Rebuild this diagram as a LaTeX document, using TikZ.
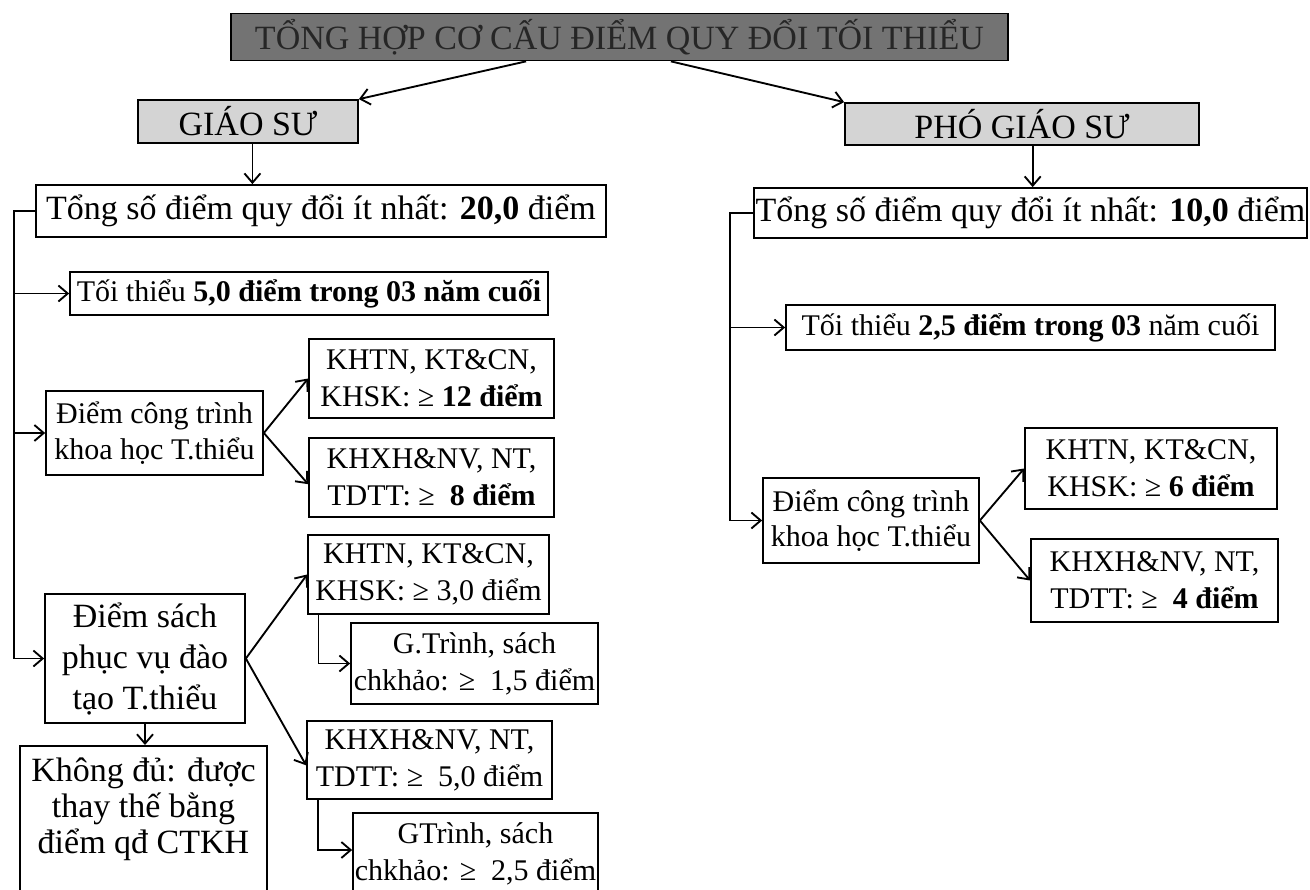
\documentclass[tikz,border=0pt]{standalone}
\usepackage{fontspec}
\setmainfont{Liberation Serif}
\usetikzlibrary{arrows.meta,calc}
\tikzset{
  box/.style={draw, line width=1.3pt, inner sep=0pt, align=center, fill=white},
  sz/.style 2 args={minimum width=#1*0.75pt, minimum height=#2*0.75pt},
  big/.style={font=\fontsize{25.5}{29}\selectfont},
  small/.style={font=\fontsize{22.5}{27.75}\selectfont},
  arr/.style={line width=1.4pt, -{Straight Barb[length=7pt,width=12pt]}},
  conn/.style={line width=1.4pt}
}
\begin{document}
\begin{tikzpicture}[x=0.75pt,y=-0.75pt]
\useasboundingbox (0,0) rectangle (1310,889);
\clip (0,0) rectangle (1310,889);
\fill[white] (0,0) rectangle (1310,889);
% title and heads
\node[box, big, sz={777}{47}, fill=black!55, text=black!85] (title) at (619.5,37) {TỔNG HỢP CƠ CẤU ĐIỂM QUY ĐỔI TỐI THIỂU};
\node[box, big, sz={220}{43}, fill=black!17] (gs) at (248,121.5) {GIÁO SƯ};
\node[box, big, sz={354}{42}, fill=black!17] (pgs) at (1022,124) {PHÓ GIÁO SƯ};
% left tree
\node[box, big, sz={570}{52}] (tonggs) at (321,211) {Tổng số điểm quy đổi ít nhất: \textbf{20,0} điểm};
\node[box, small, sz={478}{43}] (toigs) at (309,293.5) {Tối thiểu \textbf{5,0 điểm trong 03 năm cuối}};
\node[box, small, sz={217}{84}, font=\fontsize{22.5}{26.5}\selectfont] (ctgs) at (154.5,433) {Điểm công trình\\khoa học T.thiểu};
\node[box, small, sz={245}{79}] (khtn1) at (431.5,378.5) {KHTN, KT\&CN,\\KHSK: ≥ \textbf{12 điểm}};
\node[box, small, sz={245}{79}] (khxh1) at (431.5,477.5) {KHXH\&NV, NT,\\TDTT: ≥\ \ \textbf{8 điểm}};
\node[box, big, sz={200}{129}, font=\fontsize{25.5}{30.75}\selectfont] (sach) at (145,658.5) {Điểm sách\\phục vụ đào\\tạo T.thiểu};
\node[box, small, sz={241}{79}] (khtn2) at (428.5,574.5) {KHTN, KT\&CN,\\KHSK: ≥ 3,0 điểm};
\node[box, small, sz={247}{81}] (gt1) at (474.5,663.5) {G.Trình, sách\\chkhảo: ≥\ \ 1,5 điểm};
\node[box, small, sz={245}{78}] (khxh2) at (429.5,760) {KHXH\&NV, NT,\\TDTT: ≥\ \ 5,0 điểm};
\node[box, small, sz={245}{82}] (gt2) at (475.5,854) {GTrình, sách\\chkhảo: ≥\ \ 2,5 điểm};
\node[box, big, sz={247}{155}, anchor=north, font=\fontsize{25.5}{27}\selectfont] (khong) at (143.5,745) {Không đủ: được\\thay thế bằng\\điểm qđ CTKH\\\mbox{}};
% right tree
\node[box, big, sz={553}{50}] (tongpgs) at (1030.5,213) {Tổng số điểm quy đổi ít nhất: \textbf{10,0} điểm};
\node[box, small, sz={489}{45}] (toipgs) at (1030.5,327.5) {Tối thiểu \textbf{2,5 điểm trong 03} năm cuối};
\node[box, small, sz={216}{85}, font=\fontsize{22.5}{26.5}\selectfont] (ctpgs) at (871,520.5) {Điểm công trình\\khoa học T.thiểu};
\node[box, small, sz={252}{81}] (khtn3) at (1151,468.5) {KHTN, KT\&CN,\\KHSK: ≥ \textbf{6 điểm}};
\node[box, small, sz={247}{83}] (khxh3) at (1154.5,580.5) {KHXH\&NV, NT,\\TDTT: ≥\ \ \textbf{4 điểm}};
% connectors top
\coordinate (tA) at ($(title.south west)!0.38!(title.south east)$);
\coordinate (tB) at ($(title.south west)!0.566!(title.south east)$);
\coordinate (gsS) at ($(gs.south west)!0.52!(gs.south east)$);
\coordinate (pgsS) at ($(pgs.south west)!0.53!(pgs.south east)$);
\draw[arr] (tA) -- (gs.north east);
\draw[arr] (tB) -- (pgs.north west);
\draw[arr] (gsS) -- (gsS |- tonggs.north);
\draw[arr] (pgsS) -- (pgsS |- tongpgs.north);
% left bus
\coordinate (gsbus) at (14,0);
\draw[arr] (tonggs.west) -| (gsbus |- sach.west) -- (sach.west);
\draw[arr] (gsbus |- toigs.west) -- (toigs.west);
\draw[arr] (gsbus |- ctgs.west) -- (ctgs.west);
\draw[arr] (ctgs.east) -- (khtn1.west);
\draw[arr] (ctgs.east) -- ([yshift=-5pt]khxh1.west);
\draw[arr] (sach.east) -- (khtn2.west);
\draw[arr] (sach.east) -- ([yshift=-4pt]khxh2.west);
\draw[arr] ([xshift=8.5pt]khtn2.south west) |- (gt1.west);
\draw[arr] ([xshift=9pt]khxh2.south west) |- ([yshift=3pt]gt2.west);
\draw[arr] (sach.south) -- (sach.south |- khong.north);
% right bus
\coordinate (pgsbus) at (730,0);
\draw[arr] (tongpgs.west) -| (pgsbus |- ctpgs.west) -- (ctpgs.west);
\draw[arr] (pgsbus |- toipgs.west) -- (toipgs.west);
\draw[arr] (ctpgs.east) -- (khtn3.west);
\draw[arr] (ctpgs.east) -- (khxh3.west);
\end{tikzpicture}
\end{document}
